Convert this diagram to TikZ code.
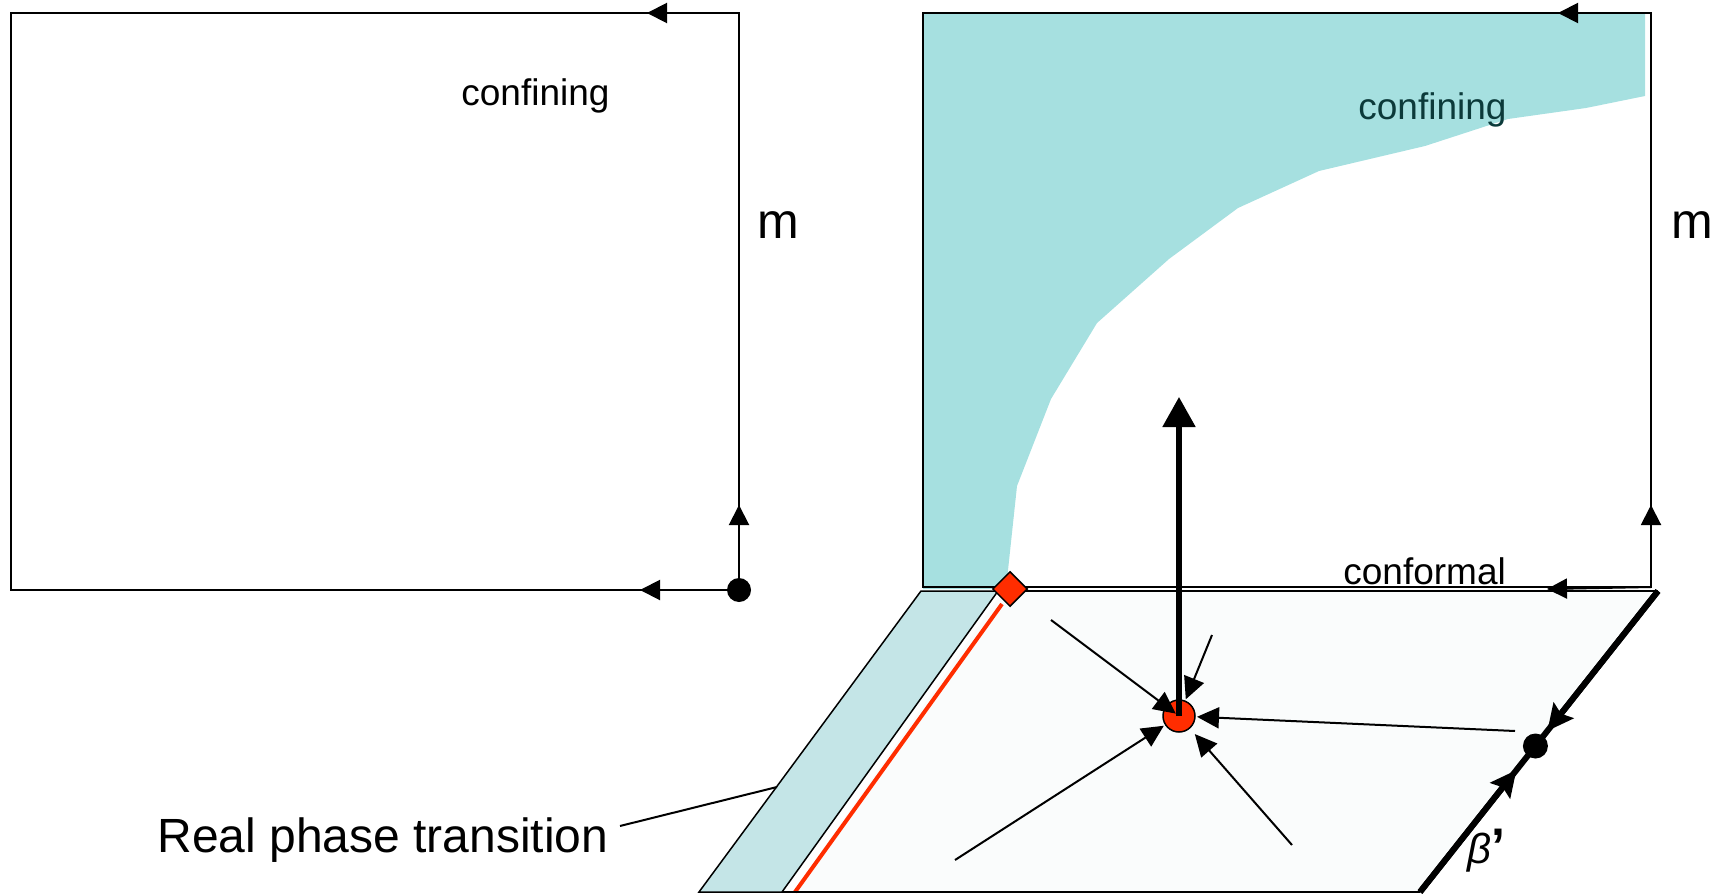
\documentclass[tikz,border=0pt]{standalone}
\usepackage{fontspec}
\setmainfont{Liberation Sans}
\usetikzlibrary{arrows.meta,shapes.geometric,calc}
\definecolor{cyanfill}{RGB}{166,224,224}
\definecolor{stripfill}{RGB}{196,229,231}
\definecolor{palefill}{RGB}{250,252,252}
\definecolor{redc}{RGB}{255,45,0}
\definecolor{tealtext}{RGB}{12,58,58}
\begin{document}
\begin{tikzpicture}[x=0.5pt,y=-0.5pt,
  thinl/.style={line width=1pt},
  boxtip/.style={-{Triangle[length=10pt,width=10pt]}},
  flowarr/.style={line width=1pt,-{Triangle[length=11pt,width=10.5pt]}},
  edgetip/.style={line width=3pt,-{Stealth[length=13pt,width=12.5pt,inset=2pt]}},
  blackdot/.style={circle,fill=black,inner sep=0pt,minimum size=12pt},
  lbl/.style={inner sep=0pt,anchor=base west},
  midfont/.style={font=\fontsize{18.5}{22}\selectfont},
  mfont/.style={font=\fontsize{25}{28}\selectfont}]
\useasboundingbox (0,0) rectangle (1715,894);

% ---------- cyan confining region ----------
\fill[cyanfill] (923,13) -- (1645,13) -- (1645,96) -- (1586,108) -- (1508,119)
  -- (1425,146) -- (1319,171) -- (1238,208) -- (1169,259) -- (1097,323)
  -- (1051,399) -- (1017,486) -- (1006,589) -- (923,589) -- cycle;

% ---------- left box ----------
\coordinate (LTL) at (11,13);
\coordinate (LTR) at (739,13);
\coordinate (LBL) at (11,590);
\node[blackdot] (ldot) at (739,590) {};
\coordinate (ltip1) at (647,13);
\coordinate (ltip2) at (739,505);
\coordinate (ltip3) at (640,590);
\draw[thinl] (ldot.center) -- (LBL) -- (LTL) -- (LTR) -- (ldot.center);
\draw[thinl,boxtip] (LTR) -- (ltip1);
\draw[thinl,boxtip] (ldot) -- (ltip2);
\draw[thinl,boxtip] (ldot) -- (ltip3);

% ---------- right box ----------
\coordinate (RTL) at (923,13);
\coordinate (RTR) at (1651,13);
\coordinate (RBL) at (923,587);
\coordinate (RBR) at (1651,587);
\coordinate (rtip1) at (1558,13);
\coordinate (rtip2) at (1651,505);
\coordinate (rtip3) at (1547,589);
\draw[thinl] (RBL) -- (RTL) -- (RTR) -- (RBR) -- cycle;
\draw[thinl,boxtip] (RTR) -- (rtip1);
\draw[thinl,boxtip] (RBR) -- (rtip2);

% ---------- plane ----------
\coordinate (STL) at (921,591);
\coordinate (STR) at (998,591);
\coordinate (SBR) at (782,892);
\coordinate (SBL) at (699,892);
\coordinate (PTR) at (1658,591);
\coordinate (PBR) at (1420,892);
\coordinate (RLt) at (1002,604);
\coordinate (RLb) at (795,892);
\fill[palefill] (1003,591) -- (PTR) -- (PBR) -- (793,892) -- cycle;
\filldraw[fill=stripfill,draw=black,line width=0.75pt] (STL) -- (STR) -- (SBR) -- (SBL) -- cycle;
\draw[redc,line width=2pt] (RLt) -- (RLb);
\draw[line width=0.75pt] (STR) -- (PTR);
\draw[line width=0.75pt] (SBR) -- (PBR);
\draw[thinl,boxtip] (RBR) -- (rtip3);

% thick beta' edge
\draw[line width=3pt] (PTR) -- (PBR);
\coordinate (etipdown) at ($(PTR)!0.465!(PBR)$);
\coordinate (etipup) at ($(PTR)!0.595!(PBR)$);
\draw[edgetip] (PTR) -- (etipdown);
\draw[edgetip] (PBR) -- (etipup);
\node[blackdot,minimum size=12.5pt] (pdot) at ($(PTR)!0.515!(PBR)$) {};

% diamond
\node[diamond,fill=redc,draw=black,line width=0.75pt,inner sep=0pt,
      minimum width=17.5pt,minimum height=17.5pt] (dm) at (1010,589) {};

% ---------- central fixed point ----------
\node[circle,fill=redc,draw=black,line width=0.75pt,inner sep=0pt,
      minimum size=16pt,outer sep=1pt] (rc) at (1179,716) {};
\coordinate (s1) at (1051,620);
\coordinate (s2) at (1212,635);
\coordinate (s3) at (1515,731);
\coordinate (s4) at (1292,845);
\coordinate (s5) at (955,860);
\coordinate (up) at (1179,397);
\draw[flowarr,shorten >=2pt] (s1) -- (rc.center);
\draw[flowarr] (s2) -- (rc);
\draw[flowarr] (s3) -- (rc);
\draw[flowarr,shorten >=3pt] (s4) -- (rc);
\draw[flowarr] (s5) -- (rc);
\draw[line width=2.6pt,-{Triangle[length=15pt,width=16pt]}] (rc.center) -- (up);

% ---------- labels ----------
\node[lbl,midfont] (conf1) at (461,105) {confining};
\node[lbl,mfont] (m1) at (757,238) {m};
\node[lbl,midfont,text=tealtext] (conf2) at (1358,119) {confining};
\node[lbl,mfont] (m2) at (1671,238) {m};
\node[lbl,midfont] (confo) at (1343,584) {conformal};
\node[lbl,font=\fontsize{21}{24}\selectfont] (beta) at (1467,863) {\textit{β}{\fontsize{25}{25}\selectfont\textbf{’}}};
\node[lbl,font=\fontsize{24}{28}\selectfont] (rpt) at (157,852) {Real phase transition};
\coordinate (leadstart) at (620,826);
\coordinate (leadend) at (777,787);
\draw[line width=1pt] (leadstart) -- (leadend);
\end{tikzpicture}
\end{document}
